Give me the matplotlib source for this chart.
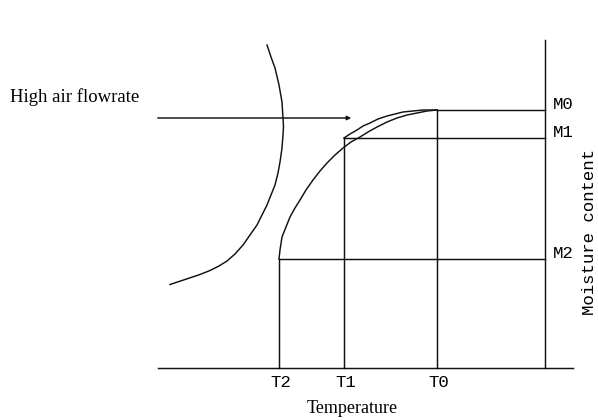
import matplotlib.pyplot as plt

# schematic (x = temperature, y = moisture, arbitrary units)
t_labels = ["T2", "T1", "T0"]
t_vals = [279, 344, 437]
m_labels = ["M0", "M1", "M2"]
m_vals = [310, 282, 161]

x_axis_start = 158
x_axis_end = 573
y_axis_x = 545
y_axis_top = 380
base_y = 52

# drying curve at normal flow (T2,M2 -> T0,M0)
low_x = [279, 280, 282, 286, 290, 295, 300, 306, 313, 320, 327, 335, 343, 351, 360, 368, 377, 387, 397, 407, 417, 427, 437]
low_y = [161, 170, 183, 193, 203, 212, 220, 230, 240, 249, 257, 265, 272, 278, 283, 288, 293, 298, 302, 305, 307, 309, 310]

# curve at high air flowrate (T1,M1 -> T0,M0)
high_x = [344, 350, 357, 363, 370, 378, 387, 395, 403, 413, 423, 437]
high_y = [282, 286, 290, 294, 297, 301, 304, 306, 308, 309, 310, 310]

# big arc
arc_x = [267, 271, 275, 279, 282, 283, 283.5, 283, 282, 280, 278, 275, 271, 267, 262, 257, 250, 243, 235, 227, 219, 210, 200, 188, 170]
arc_y = [375, 363, 352, 335, 318, 302, 294, 285, 272, 258, 247, 235, 225, 215, 205, 195, 185, 175, 166, 159, 154, 149.5, 145.5, 141.5, 135.5]

fig = plt.figure(figsize=(5.98, 4.2), dpi=100)
ax = fig.add_axes([0, 0, 1, 1])
ax.set_xlim(0, 598)
ax.set_ylim(0, 420)
ax.axis("off")

lw = 1.05
c = "#111111"

# axes
ax.plot([x_axis_start, x_axis_end], [base_y, base_y], color=c, lw=lw)
ax.plot([y_axis_x, y_axis_x], [base_y, y_axis_top], color=c, lw=lw)

# guide lines
for t, m in zip(t_vals, m_vals[::-1]):
    ax.plot([t, t], [base_y, m], color=c, lw=lw)
    ax.plot([t, y_axis_x], [m, m], color=c, lw=lw)

ax.plot(low_x, low_y, color=c, lw=lw)
ax.plot(high_x, high_y, color=c, lw=lw)
ax.plot(arc_x, arc_y, color=c, lw=lw)

# arrow
ax.annotate("", xy=(354, 302), xytext=(155, 302),
            arrowprops=dict(arrowstyle="-|>", color=c, lw=lw, mutation_scale=6))

mono = "Liberation Mono"
serif = "Liberation Serif"
for lab, t in zip(t_labels, t_vals):
    ax.text(t + 2, 33, lab, family=mono, fontsize=12.5, ha="center", va="baseline")
for lab, m in zip(m_labels, m_vals):
    ax.text(553, m + 1, lab, family=mono, fontsize=12.5, ha="left", va="baseline")

ax.text(589, 188, "Moisture content", family=mono, fontsize=12.5, rotation=90,
        ha="center", va="center")
ax.text(352, 7, "Temperature", family=serif, fontsize=13, ha="center", va="baseline")
ax.text(10, 318, "High air flowrate", family=serif, fontsize=13.5, ha="left", va="baseline")

fig.savefig("out.png", dpi=100)
